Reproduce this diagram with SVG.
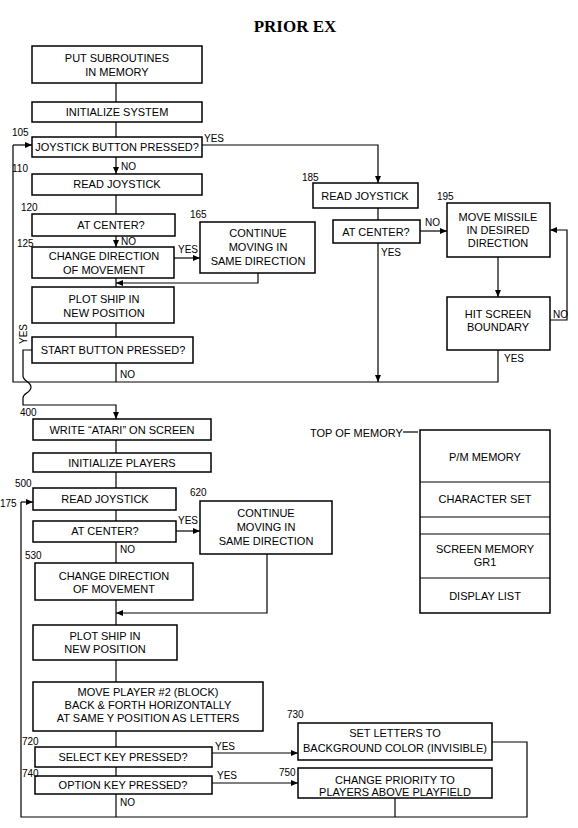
<svg xmlns="http://www.w3.org/2000/svg" width="578" height="828" viewBox="0 0 578 828">
<defs>
<marker id="ah" markerWidth="8" markerHeight="8" refX="7" refY="4" orient="auto" markerUnits="userSpaceOnUse">
<path d="M0,1 L7,4 L0,7 Z" fill="#000"/>
</marker>
<style>
.b{fill:#fff;stroke:#000;stroke-width:1.5}
.c{fill:none;stroke:#000;stroke-width:1.2}
.a{fill:none;stroke:#000;stroke-width:1.2;marker-end:url(#ah)}
text{font-family:"Liberation Sans",Arial,sans-serif;font-size:11px;fill:#000}
.t{text-anchor:middle}
.l{font-size:10px}
.h{font-family:"Liberation Serif","Times New Roman",serif;font-size:17px;font-weight:bold;text-anchor:middle}
</style>
</defs>
<rect width="578" height="828" fill="#fff"/>
<text class="h" x="295" y="32">PRIOR EX</text>

<g id="connectors">
<path class="c" d="M116,83 V102"/>
<path class="c" d="M116,122 V137"/>
<path class="a" d="M116,157 V174"/>
<path class="c" d="M116,195 V214"/>
<path class="a" d="M116,236 V247"/>
<path class="a" d="M174,258 H200"/>
<path class="c" d="M116,278 V287"/>
<path class="a" d="M258,273 V283 H116"/>
<path class="c" d="M116,323 V337"/>
<path class="c" d="M116,363 V382"/>
<path class="a" d="M202,145 H378 V183"/>
<path class="c" d="M378,208 V220"/>
<path class="a" d="M420,231 H447"/>
<path class="a" d="M378,243 V382"/>
<path class="a" d="M498,257 V297"/>
<path class="a" d="M550,320 H567 V230 H550"/>
<path class="c" d="M498,350 V382 H13 V145"/>
<path class="a" d="M13,145 H32"/>
<path class="a" d="M32,350 H23 V376 C23,381 31,382 31,387 C31,393 23,393 23,398 V405 H116 V419"/>
<path class="c" d="M116,440 V453"/>
<path class="c" d="M116,472 V488"/>
<path class="c" d="M116,510 V521"/>
<path class="a" d="M176,531 H200"/>
<path class="c" d="M116,542 V563"/>
<path class="c" d="M116,600 V625"/>
<path class="a" d="M267,554 V613 H116"/>
<path class="c" d="M116,660 V682"/>
<path class="c" d="M116,731 V747"/>
<path class="c" d="M116,767 V776"/>
<path class="a" d="M212,753 H298"/>
<path class="a" d="M212,783 H298"/>
<path class="c" d="M116,794 V817"/>
<path class="c" d="M395,798 V817"/>
<path class="c" d="M492,742 H527 V817 H21 V502"/>
<path class="a" d="M21,502 H33"/>
<path class="c" d="M403,432 H418"/>
</g>

<g id="n-put"><rect class="b" x="32" y="46" width="170" height="37"/><text class="t" x="117" y="62">PUT SUBROUTINES</text><text class="t" x="117" y="76">IN MEMORY</text></g>
<g id="n-init"><rect class="b" x="32" y="102" width="170" height="20"/><text class="t" x="117" y="116">INITIALIZE SYSTEM</text></g>
<g id="n105"><rect class="b" x="32" y="137" width="170" height="20"/><text class="t" x="117" y="151">JOYSTICK BUTTON PRESSED?</text><text class="l" x="12" y="136">105</text><text class="l" x="204" y="142">YES</text><text class="l" x="121" y="170">NO</text></g>
<g id="n110"><rect class="b" x="32" y="174" width="170" height="21"/><text class="t" x="117" y="188">READ JOYSTICK</text><text class="l" x="12" y="172">110</text></g>
<g id="n120"><rect class="b" x="32" y="214" width="143" height="22"/><text class="t" x="111" y="229">AT CENTER?</text><text class="l" x="21" y="211">120</text><text class="l" x="121" y="245">NO</text></g>
<g id="n125"><rect class="b" x="32" y="247" width="142" height="31"/><text class="t" x="104" y="260">CHANGE DIRECTION</text><text class="t" x="104" y="274">OF MOVEMENT</text><text class="l" x="17" y="247">125</text><text class="l" x="178" y="253">YES</text></g>
<g id="n165"><rect class="b" x="200" y="222" width="115" height="51"/><text class="t" x="258" y="237">CONTINUE</text><text class="t" x="258" y="251">MOVING IN</text><text class="t" x="258" y="265">SAME DIRECTION</text><text class="l" x="190" y="218">165</text></g>
<g id="n-plot1"><rect class="b" x="32" y="287" width="142" height="36"/><text class="t" x="104" y="303">PLOT SHIP IN</text><text class="t" x="104" y="317">NEW POSITION</text></g>
<g id="n-start"><rect class="b" x="32" y="337" width="161" height="26"/><text class="t" x="113" y="354">START BUTTON PRESSED?</text><text class="l" x="0" y="0" transform="translate(27,334) rotate(-90)" text-anchor="middle">YES</text><text class="l" x="120" y="378">NO</text></g>
<g id="n185"><rect class="b" x="313" y="183" width="105" height="25"/><text class="t" x="365" y="200">READ JOYSTICK</text><text class="l" x="302" y="181">185</text></g>
<g id="n-center2"><rect class="b" x="333" y="220" width="87" height="23"/><text class="t" x="376" y="236">AT CENTER?</text><text class="l" x="425" y="226">NO</text><text class="l" x="381" y="256">YES</text></g>
<g id="n195"><rect class="b" x="447" y="203" width="103" height="54"/><text class="t" x="498" y="221">MOVE MISSILE</text><text class="t" x="498" y="234">IN DESIRED</text><text class="t" x="498" y="247">DIRECTION</text><text class="l" x="437" y="200">195</text></g>
<g id="n-hit"><rect class="b" x="447" y="297" width="103" height="53"/><text class="t" x="498" y="318">HIT SCREEN</text><text class="t" x="498" y="331">BOUNDARY</text><text class="l" x="553" y="318">NO</text><text class="l" x="504" y="362">YES</text></g>

<g id="n400"><rect class="b" x="33" y="419" width="178" height="21"/><text class="t" x="122" y="434">WRITE “ATARI” ON SCREEN</text><text class="l" x="20" y="416">400</text></g>
<g id="n-initp"><rect class="b" x="33" y="453" width="178" height="19"/><text class="t" x="122" y="467">INITIALIZE PLAYERS</text></g>
<g id="n500"><rect class="b" x="33" y="488" width="143" height="22"/><text class="t" x="105" y="503">READ JOYSTICK</text><text class="l" x="15" y="487">500</text><text class="l" x="0" y="507">175</text></g>
<g id="n-center3"><rect class="b" x="33" y="521" width="143" height="21"/><text class="t" x="105" y="535">AT CENTER?</text><text class="l" x="178" y="524">YES</text><text class="l" x="120" y="553">NO</text></g>
<g id="n620"><rect class="b" x="200" y="501" width="132" height="53"/><text class="t" x="266" y="517">CONTINUE</text><text class="t" x="266" y="531">MOVING IN</text><text class="t" x="266" y="545">SAME DIRECTION</text><text class="l" x="190" y="496">620</text></g>
<g id="n530"><rect class="b" x="35" y="563" width="158" height="37"/><text class="t" x="114" y="580">CHANGE DIRECTION</text><text class="t" x="114" y="593">OF MOVEMENT</text><text class="l" x="25" y="559">530</text></g>
<g id="n-plot2"><rect class="b" x="33" y="625" width="144" height="35"/><text class="t" x="105" y="640">PLOT SHIP IN</text><text class="t" x="105" y="653">NEW POSITION</text></g>
<g id="n-move2"><rect class="b" x="33" y="682" width="230" height="49"/><text class="t" x="148" y="696">MOVE PLAYER #2 (BLOCK)</text><text class="t" x="148" y="709">BACK &amp; FORTH HORIZONTALLY</text><text class="t" x="148" y="722">AT SAME Y POSITION AS LETTERS</text></g>
<g id="n720"><rect class="b" x="35" y="747" width="177" height="20"/><text class="t" x="123" y="761">SELECT KEY PRESSED?</text><text class="l" x="22" y="745">720</text><text class="l" x="215" y="750">YES</text></g>
<g id="n740"><rect class="b" x="35" y="776" width="177" height="18"/><text class="t" x="123" y="789">OPTION KEY PRESSED?</text><text class="l" x="22" y="777">740</text><text class="l" x="217" y="779">YES</text><text class="l" x="120" y="806">NO</text></g>
<g id="n730"><rect class="b" x="298" y="723" width="194" height="37"/><text class="t" x="395" y="737">SET LETTERS TO</text><text class="t" x="395" y="752">BACKGROUND COLOR (INVISIBLE)</text><text class="l" x="287" y="718">730</text></g>
<g id="n750"><rect class="b" x="298" y="768" width="194" height="30"/><text class="t" x="395" y="784">CHANGE PRIORITY TO</text><text class="t" x="395" y="796">PLAYERS ABOVE PLAYFIELD</text><text class="l" x="279" y="776">750</text></g>

<g id="memory">
<text x="310" y="437">TOP OF MEMORY</text>
<rect class="b" x="420" y="430" width="130" height="183"/>
<path class="c" d="M420,482 H550 M420,517 H550 M420,534 H550 M420,578 H550"/>
<text class="t" x="485" y="461">P/M MEMORY</text>
<text class="t" x="485" y="503">CHARACTER SET</text>
<text class="t" x="485" y="553">SCREEN MEMORY</text>
<text class="t" x="485" y="566">GR1</text>
<text class="t" x="485" y="600">DISPLAY LIST</text>
</g>
</svg>
